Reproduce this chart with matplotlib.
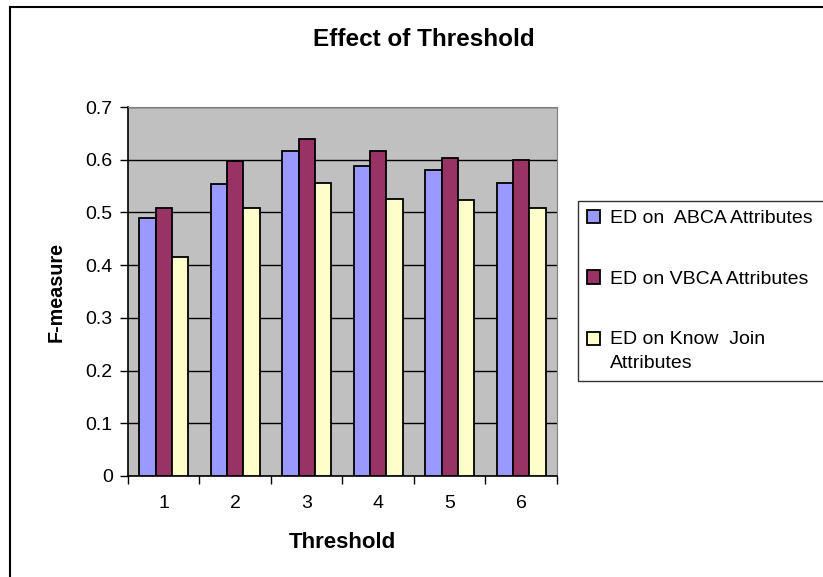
import numpy as np
import matplotlib
matplotlib.use("Agg")
import matplotlib.pyplot as plt
from matplotlib.lines import Line2D

plt.rcParams['font.family'] = ['Liberation Sans', 'DejaVu Sans']

# data
thresholds = ['1', '2', '3', '4', '5', '6']
abca = [0.490, 0.553, 0.616, 0.589, 0.580, 0.556]
vbca = [0.509, 0.597, 0.640, 0.616, 0.603, 0.599]
know_join = [0.415, 0.509, 0.556, 0.526, 0.523, 0.509]
series_names = ['ED on  ABCA Attributes', 'ED on VBCA Attributes', 'ED on Know  Join\nAttributes']
colors = ['#9999FF', '#993366', '#FFFFCC']

W, H = 823, 577
fig = plt.figure(figsize=(W / 100, H / 100), dpi=100)
ax = fig.add_axes([128 / W, 1 - 476 / H, (557 - 128) / W, (476 - 107) / H])
ax.set_facecolor('#C0C0C0')

x = np.arange(len(thresholds))
bw = 0.228
for i, (vals, name, c) in enumerate(zip([abca, vbca, know_join], series_names, colors)):
    ax.bar(x + (i - 1) * bw, vals, bw, color=c, edgecolor='black', linewidth=1.3,
           label=name, zorder=3)

ax.set_xlim(-0.5, len(thresholds) - 0.5)
ax.set_ylim(0, 0.7)
ax.set_yticks(np.arange(0, 0.71, 0.1))
ax.set_yticklabels(['0', '0.1', '0.2', '0.3', '0.4', '0.5', '0.6', '0.7'])
ax.yaxis.grid(True, color='black', linewidth=1, zorder=1)
ax.set_axisbelow(True)

ax.set_xticks(x)
ax.set_xticklabels(thresholds)
ax.set_xticks(np.arange(-0.5, len(thresholds)), minor=True)
ax.tick_params(axis='x', which='major', length=0, pad=14, labelsize=14)
ax.tick_params(axis='x', which='minor', length=6, direction='out', width=1)
ax.tick_params(axis='y', length=6, direction='out', width=1, labelsize=14, pad=5)

for s in ['top', 'right']:
    ax.spines[s].set_color('#808080')
for s in ['left', 'bottom']:
    ax.spines[s].set_color('black')
    ax.spines[s].set_linewidth(1.2)

ax.set_xlabel('Threshold', fontsize=16, fontweight='bold', labelpad=14)
ax.set_ylabel('F-measure', fontsize=14.2, fontweight='bold', labelpad=14)
fig.text(424 / W, 1 - 39 / H, 'Effect of Threshold', ha='center', va='center',
         fontsize=17.5, fontweight='bold')

leg = fig.legend(loc='upper left', bbox_to_anchor=(578 / W, 1 - 201 / H, 0.32, 0),
                 mode='expand', fontsize=14, frameon=True, fancybox=False,
                 edgecolor='black', borderaxespad=0, handlelength=0.7, handleheight=0.7,
                 handletextpad=0.5, labelspacing=2.2, borderpad=0.45)
leg.get_frame().set_linewidth(1)
for t in leg.get_texts():
    t.set_linespacing(1.6)
# two-line entry: put the square next to the first line, as in the original
last = leg.legend_handles[2]
last.set_y(last.get_y() + 9.2)

# outer frame of the chart (only top and left visible)
fig.add_artist(Line2D([10 / W, 1], [1 - 7 / H, 1 - 7 / H], color='black', linewidth=1.5))
fig.add_artist(Line2D([10 / W, 10 / W], [0, 1 - 7 / H], color='black', linewidth=1.5))

fig.savefig('out.png', dpi=100, facecolor='white')
